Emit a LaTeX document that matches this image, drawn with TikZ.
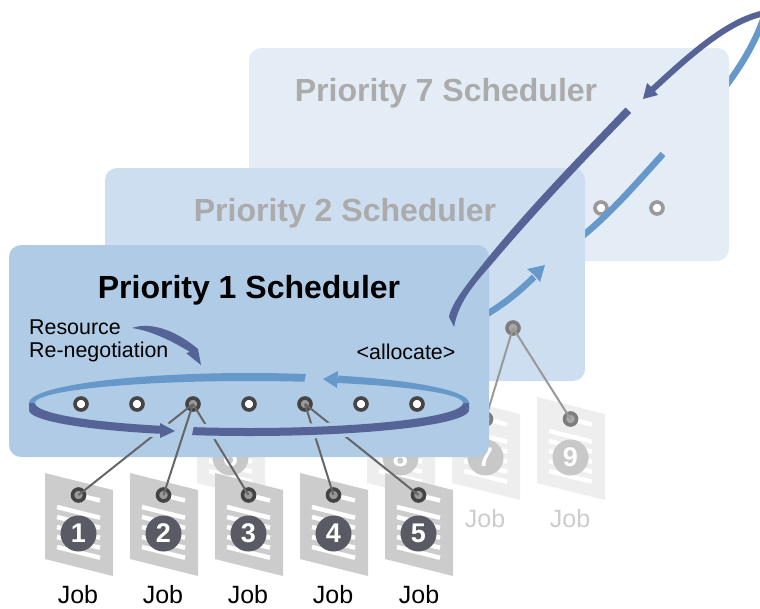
\documentclass[tikz,border=0pt]{standalone}
\usepackage{fontspec}
\setmainfont{Liberation Sans}
\definecolor{pone}{HTML}{B0CBE5}
\definecolor{ptwo}{HTML}{CCDEEF}
\definecolor{pseven}{HTML}{E4EDF6}
\definecolor{lightarc}{HTML}{6699C9}
\definecolor{darkarc}{HTML}{556396}
\definecolor{docfront}{HTML}{CCCCCC}
\definecolor{docback}{HTML}{EEEEEE}
\definecolor{numfront}{HTML}{5A5A64}
\definecolor{numback}{HTML}{C8C8C8}
\definecolor{ringdark}{HTML}{444444}
\definecolor{ringpale}{HTML}{9A9A9A}
\definecolor{linkfront}{HTML}{666666}
\definecolor{linkback}{HTML}{999999}
\definecolor{titleback}{HTML}{ABABAB}
\definecolor{jobback}{HTML}{CCCCCC}
\tikzset{
  panelbox/.style={rounded corners=12pt,draw=none},
  titletext/.style={font=\bfseries\fontsize{32}{36}\selectfont,inner sep=0pt},
  labeltext/.style={font=\fontsize{21.4}{25}\selectfont,inner sep=0pt,text=black},
  jobtext/.style={font=\fontsize{25}{28}\selectfont,inner sep=0pt},
  pinopen/.style={circle,draw=ringdark,fill=white,line width=3.6pt,minimum size=12pt,inner sep=0pt},
  pinpale/.style={circle,draw=ringpale,fill=white,line width=3.6pt,minimum size=12pt,inner sep=0pt},
  pinlinked/.style={circle,draw=ringdark,fill=ringpale,line width=3.6pt,minimum size=12pt,inner sep=0pt},
  pinback/.style={circle,draw=linkfront!85,fill=ringpale!85,line width=3.6pt,minimum size=12pt,inner sep=0pt},
  linkf/.style={draw=linkfront,line width=2pt},
  linkb/.style={draw=linkback,line width=2pt},
  numdisc/.style={circle,minimum size=36pt,inner sep=0pt,text=white,font=\bfseries\fontsize{27}{30}\selectfont},
  stripe/.style={draw=white,line width=4.4pt},
  arcstroke/.style={line width=6.5pt,line cap=butt},
}
% name, left x, top y, number, doc colour, disc colour, pin style
\newcommand{\jobdoc}[7]{%
  \fill[#5] (#2,#3) -- ++(68,17) -- ++(0,86) -- ++(-68,-17) -- cycle;
  \draw[stripe] ({#2+41},{#3+24}) -- ++(14,3.5);
  \foreach \k in {0,10,20,30,40}{\draw[stripe] ({#2+12},{#3+34+\k}) -- ++(43,10.75);}
  \node[numdisc,fill=#6] (n#1) at ({#2+33.5},{#3+60.5}) {#4};
  \node[#7] (j#1) at ({#2+33.5},{#3+22}) {};
}
% upper ribbon of the ring: from angle a to b
\newcommand{\crescent}[2]{%
  plot[smooth,samples=40,domain=#1:#2] ({249+220*cos(\x)},{403-30*sin(\x)})
  -- plot[smooth,samples=40,domain=#2:#1] ({249+214*cos(\x)},{403-22*sin(\x)}) -- cycle}
% lower ribbon of the ring: from angle a to b
\newcommand{\lowband}[2]{%
  plot[smooth,samples=40,domain=#1:#2] ({249+220*cos(\x)},{410-26*sin(\x)})
  -- plot[smooth,samples=40,domain=#2:#1] ({249+214*cos(\x)},{403-25*sin(\x)}) -- cycle}
\begin{document}
\begin{tikzpicture}[x=1pt,y=-1pt]
\useasboundingbox (0,0) rectangle (760,608);
\clip (0,0) rectangle (760,608);
% back jobs
\jobdoc{6}{197}{397}{6}{docback}{numback}{pinback}
\jobdoc{8}{367}{397}{8}{docback}{numback}{pinback}
\jobdoc{7}{452}{397}{7}{docback}{numback}{pinback}
\jobdoc{9}{537}{397}{9}{docback}{numback}{pinback}
\node[jobtext,text=jobback] (t7) at (485,519) {Job};
\node[jobtext,text=jobback] (t9) at (570,519) {Job};
% priority 7
\draw[lightarc,arcstroke] (715,100) .. controls (735,75) and (752,50) .. (763,20);
\fill[pseven,panelbox] (249,48) rectangle (729,261);
\node[titletext,text=titleback] (title7) at (446,93) {Priority 7 Scheduler};
\node[pinpale] (s1) at (601,208) {};
\node[pinpale] (s2) at (657,208) {};
\draw[lightarc,arcstroke] (580,238) .. controls (610,214) and (635,185) .. (663,154);
% priority 2
\fill[ptwo,panelbox] (105,168) rectangle (585,381);
\node[titletext,text=titleback] (title2) at (345,213) {Priority 2 Scheduler};
\node[pinback] (t1) at (513,328) {};
\draw[linkb] (t1.center) -- (j7.center);
\draw[linkb] (t1.center) -- (j9.center);
\draw[lightarc,arcstroke] (480,318) .. controls (500,307) and (518,293) .. (534,277);
\fill[lightarc] (545,265) -- (527,269) -- (533,274) -- (535,276) -- (540,282) -- cycle;
% priority 1
\fill[pone,panelbox] (9,245) rectangle (489,457);
\node[titletext,text=black] (title1) at (249,290) {Priority 1 Scheduler};
\node[labeltext,anchor=west] (res) at (29,327) {Resource};
\node[labeltext,anchor=west] (ren) at (29,352) {Re-negotiation};
\node[labeltext] (alloc) at (406,352) {<allocate>};
\fill[darkarc] (132,328) .. controls (152,321) and (178,332) .. (198,349)
  -- (201,365) -- (186,353) -- (190,352) .. controls (172,341) and (152,331) .. cycle;
% pins of priority 1
\node[pinopen] (a1) at (81,404) {};
\node[pinopen] (a2) at (137,404) {};
\node[pinlinked] (a3) at (193,404) {};
\node[pinopen] (a4) at (249,404) {};
\node[pinlinked] (a5) at (305,404) {};
\node[pinopen] (a6) at (361,404) {};
\node[pinopen] (a7) at (417,404) {};
% front jobs
\jobdoc{1}{45}{473}{1}{docfront}{numfront}{pinlinked}
\jobdoc{2}{130}{473}{2}{docfront}{numfront}{pinlinked}
\jobdoc{3}{215}{473}{3}{docfront}{numfront}{pinlinked}
\jobdoc{4}{300}{473}{4}{docfront}{numfront}{pinlinked}
\jobdoc{5}{385}{473}{5}{docfront}{numfront}{pinlinked}
\node[jobtext] (t1a) at (78,595) {Job};
\node[jobtext] (t2a) at (163,595) {Job};
\node[jobtext] (t3a) at (248,595) {Job};
\node[jobtext] (t4a) at (333,595) {Job};
\node[jobtext] (t5a) at (419,595) {Job};
% links
\draw[linkf] (a3.center) -- (j1.center);
\draw[linkf] (a3.center) -- (j2.center);
\draw[linkf] (a3.center) -- (j3.center);
\draw[linkf] (a5.center) -- (j4.center);
\draw[linkf] (a5.center) -- (j5.center);
% ring, lower half with halo
\draw[pone,line width=7pt,fill=pone] \lowband{205}{246};
\draw[pone,line width=7pt,fill=pone] (160,423) -- (175,431) -- (160,438) -- cycle;
\draw[pone,line width=7pt,fill=pone] \lowband{255}{335};
\fill[darkarc] \lowband{180}{246};
\fill[darkarc] (160,423) -- (175,431) -- (160,438) -- cycle;
\fill[darkarc] \lowband{255}{360};
\fill[darkarc] (29,403) -- (35,403) -- (29,410) -- cycle;
\fill[darkarc] (469,403) -- (463,403) -- (469,410) -- cycle;
% ring, upper half
\fill[lightarc] \crescent{0}{66};
\fill[lightarc] (323,379) -- (338,371) -- (337,388) -- cycle;
\fill[lightarc] \crescent{75}{180};
% big dark return arc
\fill[darkarc] (449,317) .. controls (451,303) and (470,280.5) .. (486.5,259.5)
  .. controls (530,206) and (580,155) .. (625.5,107.5) -- (631,113)
  .. controls (585,160) and (535,213) .. (491.5,264.5)
  .. controls (477,281) and (459,300) .. (454,327) -- cycle;
\draw[darkarc,line width=6pt] (765,13) .. controls (730,20) and (695,50) .. (652,90);
\fill[darkarc] (643,99) -- (647,83) -- (652,88) -- (658,95) -- cycle;
\end{tikzpicture}
\end{document}
